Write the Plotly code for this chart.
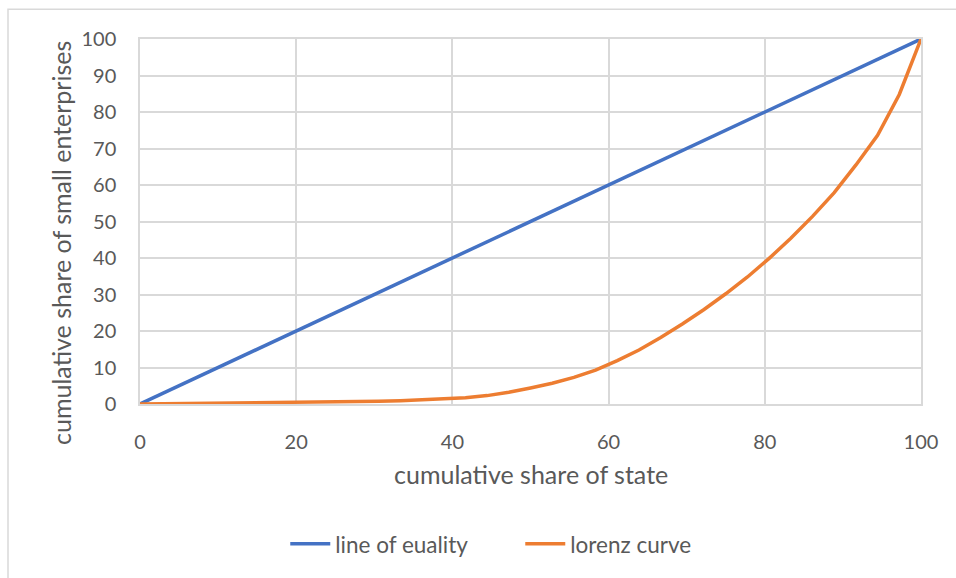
import plotly.graph_objects as go

# Cumulative share of states (x) and of small enterprises (y), in percent
equality_x = [0, 100]
equality_y = [0, 100]

lorenz_x = [0, 2.78, 5.56, 8.33, 11.11, 13.89, 16.67, 19.44, 22.22, 25.0,
            27.78, 30.56, 33.33, 36.11, 38.89, 41.67, 44.44, 47.22, 50.0,
            52.78, 55.56, 58.33, 61.11, 63.89, 66.67, 69.44, 72.22, 75.0,
            77.78, 80.56, 83.33, 86.11, 88.89, 91.67, 94.44, 97.22, 100]
lorenz_y = [0, 0.05, 0.1, 0.15, 0.2, 0.25, 0.3, 0.35, 0.45, 0.55,
            0.65, 0.75, 0.9, 1.1, 1.35, 1.7, 2.3, 3.2, 4.4,
            5.7, 7.3, 9.3, 11.9, 14.8, 18.2, 21.9, 25.9, 30.2,
            34.8, 39.9, 45.4, 51.4, 57.9, 65.5, 73.6, 84.8, 100]

x_title = "cumulative share of state"
y_title = "cumulative share of small enterprises"

FONT = "Lato, Carlito, Calibri, sans-serif"
TEXT = "#595959"
GRID = "#d9d9d9"

fig = go.Figure()
fig.add_trace(go.Scatter(x=equality_x, y=equality_y, mode="lines",
                         name="line of euality", cliponaxis=False,
                         line=dict(color="#4472C4", width=3.5)))
fig.add_trace(go.Scatter(x=lorenz_x, y=lorenz_y, mode="lines",
                         name="lorenz curve", cliponaxis=False,
                         line=dict(color="#ED7D31", width=3.5)))

axis_common = dict(showgrid=True, gridcolor=GRID, gridwidth=1.5,
                   showline=True, linecolor=GRID, linewidth=1.5,
                   zeroline=False, ticks="",
                   tickfont=dict(family=FONT, size=20, color=TEXT))

fig.update_xaxes(range=[0, 100], dtick=20, tick0=0, mirror=True,
                 ticklabelstandoff=19, **axis_common)
fig.update_yaxes(range=[0, 100], dtick=10, tick0=0, mirror=True,
                 ticklabelstandoff=18, **axis_common)

fig.update_layout(
    width=956, height=578,
    margin=dict(l=140, r=35, t=39, b=172),
    paper_bgcolor="white", plot_bgcolor="white",
    font=dict(family=FONT, size=20, color=TEXT),
    showlegend=True,
    legend=dict(orientation="h", x=0.186, xanchor="left",
                y=-0.384, yanchor="middle",
                font=dict(family=FONT, size=22.5, color=TEXT),
                itemwidth=40, entrywidth=180, traceorder="normal"),
    annotations=[
        dict(text=x_title, xref="paper", yref="paper", x=0.5, y=-0.193,
             xanchor="center", yanchor="middle", showarrow=False,
             font=dict(family=FONT, size=25, color=TEXT)),
        dict(text=y_title, xref="paper", yref="paper", x=-0.1005, y=0.44,
             xanchor="center", yanchor="middle", showarrow=False,
             textangle=-90, font=dict(family=FONT, size=25, color=TEXT)),
    ],
    shapes=[
        dict(type="rect", xref="paper", yref="paper",
             x0=-0.169, y0=-0.5, x1=1.06, y1=1.0817,
             line=dict(color=GRID, width=1.5), layer="below"),
    ],
)

fig.write_html("out.html")
